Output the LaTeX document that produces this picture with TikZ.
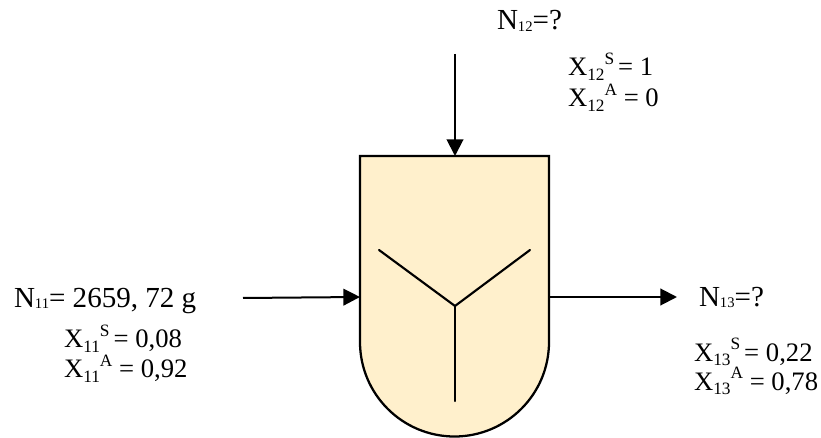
\documentclass[tikz,border=0pt]{standalone}
\usepackage{fontspec}
\setmainfont{Liberation Serif}
\usetikzlibrary{arrows.meta}
\definecolor{vesselfill}{HTML}{FFF0CC}
\newcommand{\Nn}[1]{N\raisebox{-0.05em}{\fontsize{11}{12}\selectfont #1}}
\newcommand{\Xx}[2]{X\raisebox{-0.18em}{\fontsize{13}{14}\selectfont #1}\raisebox{0.42em}{\fontsize{13}{14}\selectfont #2}}
\tikzset{
  flow/.style={draw=black,line width=1.5pt,-{Triangle[length=12.5pt,width=12.5pt]}},
  vesselline/.style={draw=black,line width=1.6pt,line cap=round,line join=round},
  vesselbody/.style={fill=vesselfill,draw=black,line width=1.7pt,line join=miter},
  lab/.style={inner sep=0pt,outer sep=0pt,anchor=base west,font=\fontsize{21.8}{24}\selectfont},
  sublab/.style={inner sep=0pt,outer sep=0pt,anchor=base west,font=\fontsize{20}{22}\selectfont},
}
\begin{document}
\begin{tikzpicture}[x=0.75pt,y=-0.75pt]
\useasboundingbox (0,0) rectangle (821,438);
\coordinate (tl) at (360,156);
\coordinate (tr) at (549,156);
\coordinate (hub) at (455,306);
\coordinate (topin) at (455,156);
\coordinate (leftin) at (360,297);
\coordinate (rightout) at (549,297);
\coordinate (topstart) at (455,54);
\coordinate (leftstart) at (243,298);
\coordinate (rightend) at (677,297);
\coordinate (bl) at (379,250);
\coordinate (br) at (530,250);
\coordinate (bb) at (455,401);
\path[vesselbody] (tl) -- (tr) -- (549,342) arc[start angle=0,end angle=-180,radius=70.875pt] -- cycle;
\draw[vesselline] (bl) -- (hub) -- (br);
\draw[vesselline] (hub) -- (bb);
\draw[flow] (topstart) -- (topin);
\draw[flow] (leftstart) -- (leftin);
\draw[flow] (rightout) -- (rightend);
\node[lab] (n12) at (497,30) {\Nn{12}=?};
\node[sublab] (x12s) at (568,76) {\Xx{12}{S}\kern3pt= 1};
\node[sublab] (x12a) at (568,107) {\Xx{12}{A} = 0};
\node[lab] (n11) at (14,307) {\Nn{11}= 2659, 72 g};
\node[sublab] (x11s) at (64,348) {\Xx{11}{S}\kern3pt= 0,08};
\node[sublab] (x11a) at (64,378) {\Xx{11}{A} = 0,92};
\node[lab] (n13) at (699,306) {\Nn{13}=?};
\node[sublab] (x13s) at (694,361) {\Xx{13}{S}\kern3pt= 0,22};
\node[sublab] (x13a) at (694,390) {\Xx{13}{A} = 0,78};
\end{tikzpicture}
\end{document}
